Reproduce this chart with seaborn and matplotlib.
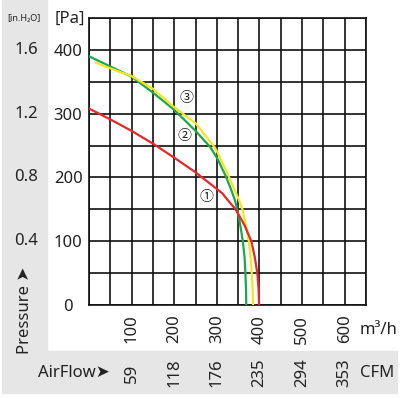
import numpy as np
import pandas as pd
import matplotlib
matplotlib.use("Agg")
import matplotlib.pyplot as plt
import matplotlib.transforms as mtransforms
from matplotlib.patches import Rectangle
import seaborn as sns

# fan curves (m3/h, Pa)
flow_1 = [0, 50, 100, 150, 200, 250, 300, 313, 325, 344, 365, 381, 389, 395, 398, 399]
pres_1 = [308, 291, 273, 253, 231, 208, 182, 175, 165, 150, 125, 100, 75, 50, 25, 0]
flow_2 = [0, 50, 100, 150, 200, 250, 284, 301, 321, 334, 342, 348, 355, 361, 365, 367, 368.5, 369]
pres_2 = [390, 374, 358, 333, 306, 273, 248, 230, 202, 180, 165, 150, 125, 100, 75, 50, 25, 0]
flow_3 = [16, 50, 100, 150, 200, 250, 294, 301, 327, 340, 351, 360, 368, 375, 379, 382, 384, 385]
pres_3 = [380, 371, 359, 339, 310, 285, 248, 240, 203, 183, 166, 150, 125, 100, 75, 50, 25, 0]

curve_names = ["①", "②", "③"]
curve_colors = ["#e8262b", "#1ba84a", "#f5e41e"]
label_pos = [(275, 169), (225, 265), (228, 324)]

flow_ticks = [100, 200, 300, 400, 500, 600]
cfm_labels = ["59", "118", "176", "235", "294", "353"]
pa_ticks = [0, 100, 200, 300, 400]
inch_ticks = [100, 200, 300, 400]
inch_labels = ["0.4", "0.8", "1.2", "1.6"]

sns.set_theme(style="white")
plt.rcParams["font.family"] = ["Noto Sans", "DejaVu Sans"]

fig = plt.figure(figsize=(4.04, 3.98), dpi=100)
W, H = 404, 398

# grey side / bottom panels (behind everything)
fig.patches.append(Rectangle((2 / W, 1 - 351 / H), 45 / W, 351 / H,
                             transform=fig.transFigure, color="#e6e6e6", zorder=-5))
fig.patches.append(Rectangle((2 / W, 1 - 393 / H), 395 / W, 42 / H,
                             transform=fig.transFigure, color="#e6e6e6", zorder=-5))

ax = fig.add_axes([89 / W, 1 - 305 / H, 277 / W, 287 / H])
ax.set_facecolor("white")

frames = []
for name, xs, ys in [("②", flow_2, pres_2), ("③", flow_3, pres_3), ("①", flow_1, pres_1)]:
    frames.append(pd.DataFrame({"flow": xs, "pressure": ys, "curve": name}))
df = pd.concat(frames, ignore_index=True)

palette = dict(zip(curve_names, curve_colors))
for name in ["②", "③", "①"]:
    sub = df[df["curve"] == name]
    sns.lineplot(data=sub, x="flow", y="pressure", color=palette[name],
                 lw=1.6, sort=False, estimator=None, ax=ax, zorder=3)

for name, (lx, ly) in zip(curve_names, label_pos):
    ax.text(lx, ly, name, ha="center", va="center", fontsize=10,
            family=["Noto Sans CJK JP", "DejaVu Sans"], color="#222222", zorder=4)

ax.set_xlim(0, 650)
ax.set_ylim(0, 450)
ax.set_xticks(flow_ticks)
ax.set_xticklabels([str(v) for v in flow_ticks], rotation=90, fontsize=12, color="#222222")
ax.set_xticks(np.arange(0, 651, 50), minor=True)
ax.set_yticks(pa_ticks)
ax.set_yticklabels([str(v) for v in pa_ticks], fontsize=12, color="#222222")
ax.set_yticks(np.arange(0, 451, 50), minor=True)
for t in ax.get_yticklabels():
    t.set_ha("center")
ax.tick_params(axis="both", which="both", length=0)
ax.tick_params(axis="x", pad=7)
ax.tick_params(axis="y", pad=15)
ax.grid(which="both", color="#111111", lw=1.2)
ax.set_axisbelow(True)
for s in ax.spines.values():
    s.set_color("#111111")
    s.set_linewidth(1.2)
ax.set_xlabel("")
ax.set_ylabel("")

# inch H2O scale on the left strip
ytrans = mtransforms.blended_transform_factory(ax.transAxes, ax.transData)
for v, lab in zip(inch_ticks, inch_labels):
    ax.text(-0.227, v, lab, transform=ytrans, ha="center", va="center",
            fontsize=12, color="#222222", clip_on=False)

# CFM row
xtrans = mtransforms.blended_transform_factory(ax.transData, ax.transAxes)
for v, lab in zip(flow_ticks, cfm_labels):
    ax.text(v, -0.237, lab, transform=xtrans, ha="center", va="center",
            rotation=90, fontsize=12, color="#222222", clip_on=False)

fig.text(70 / W, 1 - 19 / H, "[Pa]", ha="center", va="center", fontsize=12, color="#222222")
fig.text(24 / W, 1 - 19 / H, "[in.H₂O]", ha="center", va="center", fontsize=6.5,
         color="#222222")
fig.text(360 / W, 1 - 330 / H, "m³/h", ha="left", va="center", fontsize=12, color="#222222")
fig.text(360 / W, 1 - 373 / H, "CFM", ha="left", va="center", fontsize=12, color="#222222")
fig.text(38 / W, 1 - 373 / H, "AirFlow➤", ha="left", va="center", fontsize=12,
         color="#222222")
fig.text(25 / W, 1 - 354 / H, "Pressure ➤", ha="center", va="bottom", rotation=90,
         fontsize=12, color="#222222")

fig.savefig("out.png", dpi=100)
